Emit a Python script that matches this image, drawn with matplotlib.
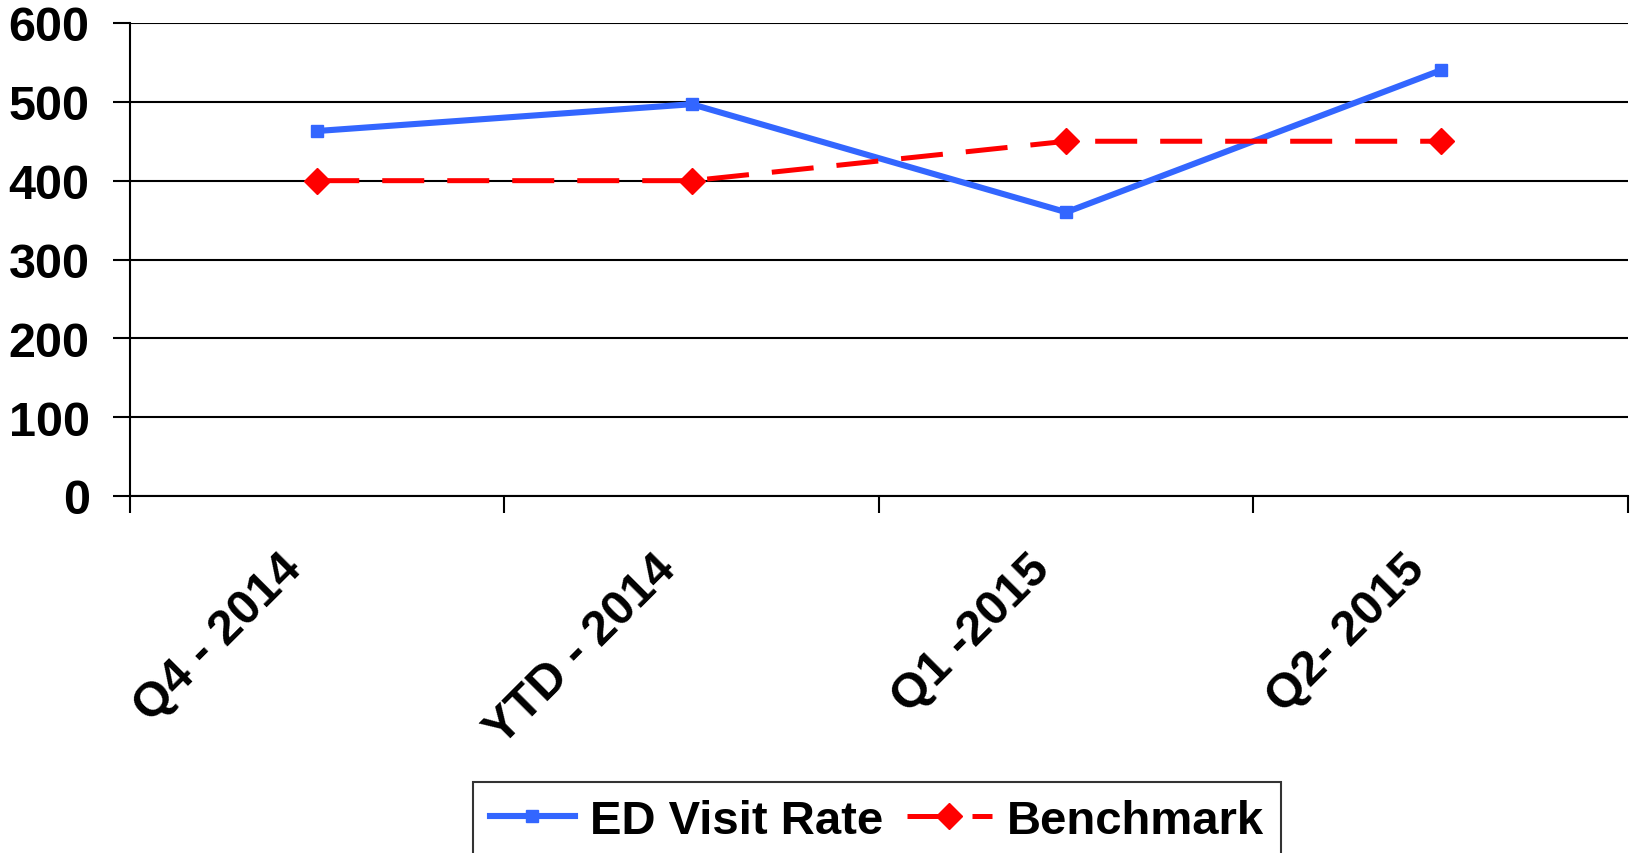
import matplotlib
matplotlib.use("Agg")
import matplotlib.pyplot as plt
from matplotlib.transforms import ScaledTranslation

plt.rcParams['font.family'] = ['Liberation Sans', 'DejaVu Sans']
plt.rcParams['font.weight'] = 'bold'

# quarterly ED visit rate vs benchmark
quarters = ['Q4 - 2014', 'YTD - 2014', 'Q1 -2015', 'Q2- 2015']
ed_visit_rate = [463, 497, 360, 540]
benchmark = [400, 400, 450, 450]
yticks = [0, 100, 200, 300, 400, 500, 600]

FS = 35

fig = plt.figure(figsize=(16.33, 8.54), dpi=100)
ax = fig.add_axes([130 / 1633, 1 - 497 / 854, 1498 / 1633, 473 / 854])

xs = [i + 0.5 for i in range(len(quarters))]
ax.plot(xs, ed_visit_rate, color='#3366ff', lw=4.4, marker='s', ms=8,
        label='ED Visit Rate', zorder=3)
ax.plot(xs, benchmark, color='#ff0000', lw=3.6, marker='D', ms=13,
        dashes=(8.4, 4.6), label='Benchmark', zorder=3)

ax.set_xlim(0, len(quarters))
ax.set_ylim(0, 600)
ax.set_yticks(yticks)
ax.yaxis.grid(True, color='black', lw=1.5)
ax.set_axisbelow(True)

# category boundaries get the visible ticks, labels sit at the centres
ax.set_xticks(range(len(quarters) + 1))
ax.set_xticklabels([])
ax.set_xticks(xs, minor=True)
ax.set_xticklabels(quarters, minor=True, rotation=45, ha='right', va='center',
                   rotation_mode='anchor', fontsize=FS, fontweight='bold')
ax.tick_params(axis='x', which='minor', length=0, pad=47)
ax.tick_params(axis='x', which='major', length=12, width=1.5, direction='out')
ax.tick_params(axis='y', length=12, width=1.5, direction='out', pad=17,
               labelsize=FS)
for lab in ax.get_yticklabels():
    lab.set_fontweight('bold')

# nudge the slanted labels a bit left of the category centre
shift = ScaledTranslation(-0.23, 0, fig.dpi_scale_trans)
for lab in ax.get_xticklabels(minor=True):
    lab.set_transform(lab.get_transform() + shift)

for side in ['top', 'right']:
    ax.spines[side].set_visible(False)
ax.spines['left'].set_linewidth(1.5)
ax.spines['bottom'].set_linewidth(1.5)

leg = fig.legend(loc='upper center', bbox_to_anchor=(0.537, 1 - 783 / 854),
                 ncol=2, fontsize=34, frameon=True, fancybox=False,
                 handlelength=1.8, columnspacing=0.5, handletextpad=0.32,
                 borderpad=0.35, borderaxespad=0)
leg.get_frame().set_edgecolor('black')
leg.get_frame().set_linewidth(1.5)
for t in leg.get_texts():
    t.set_fontweight('bold')

fig.savefig('out.png', dpi=100)
